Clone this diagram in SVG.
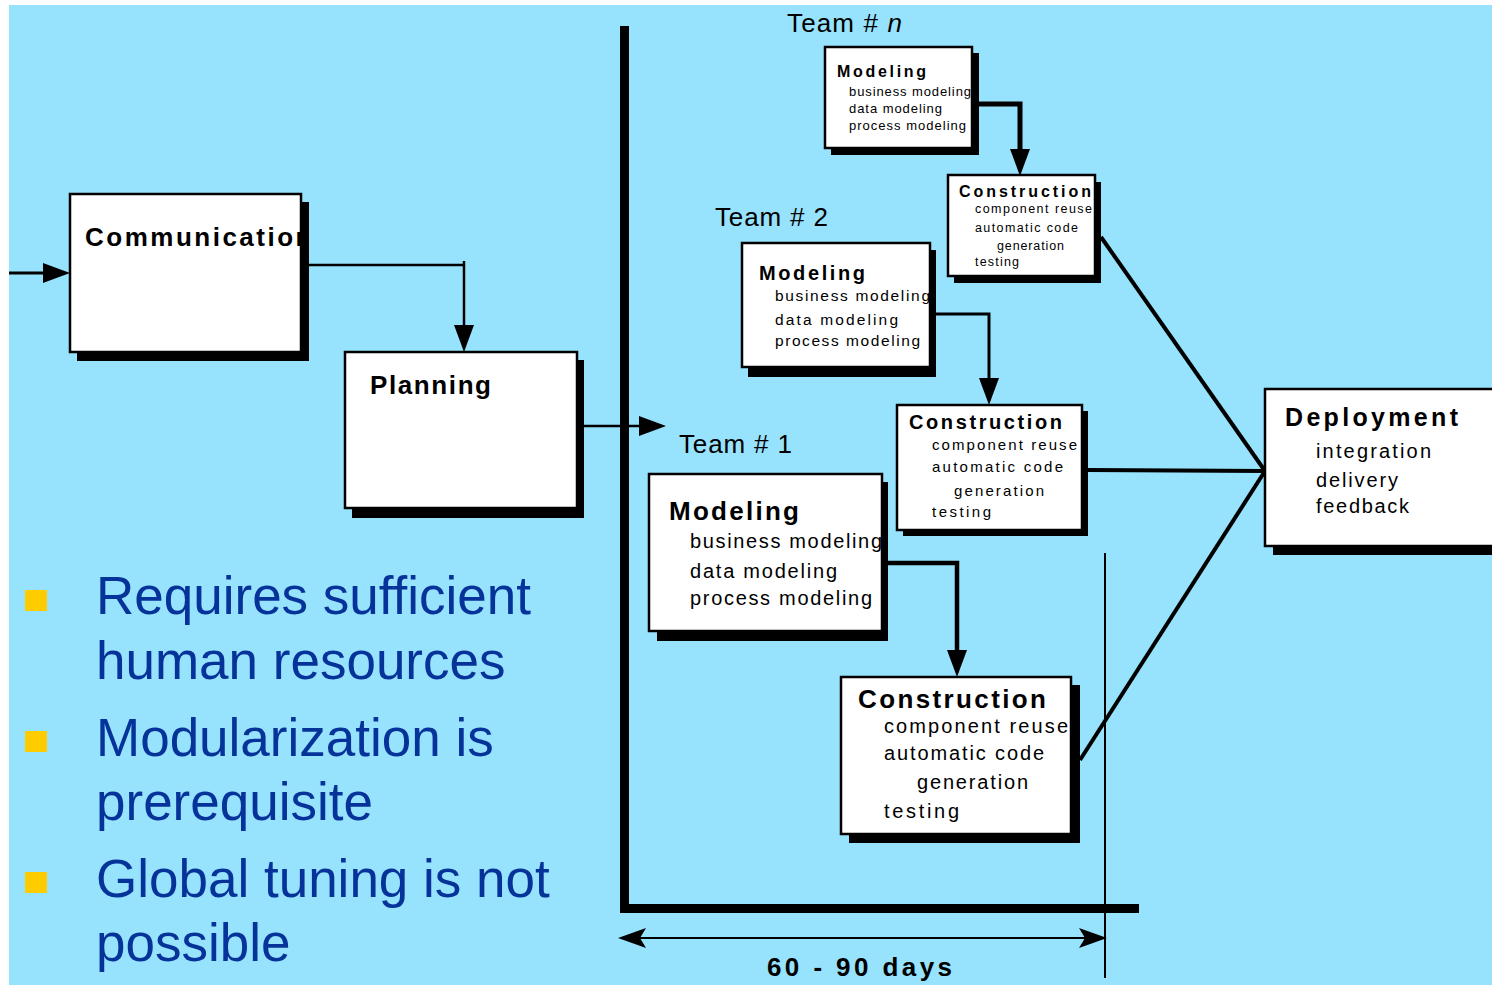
<svg xmlns="http://www.w3.org/2000/svg" width="1492" height="985" viewBox="0 0 1492 985">
<defs>
<style>
.bg{fill:#97E2FC}
.box{fill:#fff;stroke:#000;stroke-width:2.5}
.sh{fill:#000}
.t{font-family:"Liberation Sans",Arial,sans-serif;fill:#000}
.b{font-weight:bold}
.conn{fill:none;stroke:#000;stroke-linejoin:miter}
.bar{fill:#000}
.bul{font-family:"Liberation Sans",Arial,sans-serif;font-size:53px;fill:#063399}
.sq{fill:#FFCC00}
</style>
<marker id="ah" markerUnits="userSpaceOnUse" viewBox="0 0 27 20" markerWidth="27" markerHeight="20" refX="17" refY="10" orient="auto"><path d="M0,0 L27,10 L0,20 Z" fill="#000"/></marker>
<marker id="st" markerUnits="userSpaceOnUse" viewBox="0 0 28 20" markerWidth="28" markerHeight="20" refX="24" refY="10" orient="auto-start-reverse"><path d="M0,0 L28,10 L0,20 L6,10 Z" fill="#000"/></marker>
<clipPath id="clipComm"><rect x="70" y="194" width="231" height="158"/></clipPath>
</defs>
<rect x="0" y="0" width="1492" height="985" fill="#fff"/>
<rect class="bg" x="9" y="5" width="1483" height="980"/>

<g id="timeline">
<rect class="bar" x="620" y="26" width="9" height="887"/>
<rect class="bar" x="620" y="904" width="519" height="9"/>
<line x1="1105" y1="553" x2="1105" y2="978" stroke="#000" stroke-width="2"/>
<path d="M622,938 H1103" fill="none" stroke="#000" stroke-width="2" marker-start="url(#st)" marker-end="url(#st)"/>
<text class="t b" x="767" y="976" font-size="26" textLength="185" lengthAdjust="spacing">60 - 90 days</text>
</g>

<g id="connectors">
<path class="conn" d="M9,273 H60" stroke-width="3" marker-end="url(#ah)"/>
<path class="conn" d="M309,265 H465 M464,261 V342" stroke-width="2.5" marker-end="url(#ah)"/>
<path class="conn" d="M584,426 H656" stroke-width="2.5" marker-end="url(#ah)"/>
<path class="conn" d="M979,104 H1020 V166" stroke-width="5" marker-end="url(#ah)"/>
<path class="conn" d="M936,314 H989 V395" stroke-width="3" marker-end="url(#ah)"/>
<path class="conn" d="M888,563 H957 V667" stroke-width="4.5" marker-end="url(#ah)"/>
<path class="conn" d="M1101,237 L1265,471" stroke-width="4"/>
<path class="conn" d="M1088,470 L1265,471" stroke-width="4"/>
<path class="conn" d="M1080,760 L1265,471" stroke-width="4"/>
</g>

<g id="communication">
<rect class="sh" x="77" y="202" width="232" height="159"/>
<rect class="box" x="70" y="194" width="231" height="158"/>
<text class="t b" x="85" y="246" font-size="26" letter-spacing="2.5" clip-path="url(#clipComm)">Communication</text>
</g>

<g id="planning">
<rect class="sh" x="352" y="360" width="232" height="158"/>
<rect class="box" x="345" y="352" width="232" height="156"/>
<text class="t b" x="370" y="394" font-size="26" textLength="121" lengthAdjust="spacing">Planning</text>
</g>

<g id="team-n">
<text class="t" x="787" y="32" font-size="26" textLength="115" lengthAdjust="spacing">Team # <tspan font-style="italic">n</tspan></text>
</g>
<g id="modeling-n">
<rect class="sh" x="831" y="53" width="148" height="102"/>
<rect class="box" x="825" y="47" width="147" height="101" stroke-width="2"/>
<text class="t b" x="837" y="77" font-size="16" textLength="89" lengthAdjust="spacing">Modeling</text>
<text class="t" x="849" y="96" font-size="13" textLength="122" lengthAdjust="spacing">business modeling</text>
<text class="t" x="849" y="113" font-size="13" textLength="93" lengthAdjust="spacing">data modeling</text>
<text class="t" x="849" y="130" font-size="13" textLength="117" lengthAdjust="spacing">process modeling</text>
</g>
<g id="construction-n">
<rect class="sh" x="954" y="182" width="147" height="101"/>
<rect class="box" x="948" y="175" width="147" height="101" stroke-width="2"/>
<text class="t b" x="959" y="197" font-size="16" textLength="132" lengthAdjust="spacing">Construction</text>
<text class="t" x="975" y="213" font-size="12.5" textLength="117" lengthAdjust="spacing">component reuse</text>
<text class="t" x="975" y="232" font-size="12.5" textLength="103" lengthAdjust="spacing">automatic code</text>
<text class="t" x="997" y="250" font-size="12.5" textLength="67" lengthAdjust="spacing">generation</text>
<text class="t" x="975" y="266" font-size="12.5" textLength="44" lengthAdjust="spacing">testing</text>
</g>

<g id="team-2">
<text class="t" x="715" y="226" font-size="26" textLength="113" lengthAdjust="spacing">Team # 2</text>
</g>
<g id="modeling-2">
<rect class="sh" x="748" y="250" width="188" height="127"/>
<rect class="box" x="742" y="243" width="188" height="124"/>
<text class="t b" x="759" y="280" font-size="20" textLength="106" lengthAdjust="spacing">Modeling</text>
<text class="t" x="775" y="301" font-size="15.5" textLength="155" lengthAdjust="spacing">business modeling</text>
<text class="t" x="775" y="325" font-size="15.5" textLength="123" lengthAdjust="spacing">data modeling</text>
<text class="t" x="775" y="346" font-size="15.5" textLength="145" lengthAdjust="spacing">process modeling</text>
</g>
<g id="construction-2">
<rect class="sh" x="903" y="411" width="185" height="125"/>
<rect class="box" x="897" y="405" width="185" height="125"/>
<text class="t b" x="909" y="429" font-size="20" textLength="153" lengthAdjust="spacing">Construction</text>
<text class="t" x="932" y="450" font-size="15" textLength="145" lengthAdjust="spacing">component reuse</text>
<text class="t" x="932" y="472" font-size="15" textLength="131" lengthAdjust="spacing">automatic code</text>
<text class="t" x="954" y="496" font-size="15" textLength="90" lengthAdjust="spacing">generation</text>
<text class="t" x="932" y="517" font-size="15" textLength="59" lengthAdjust="spacing">testing</text>
</g>

<g id="team-1">
<text class="t" x="679" y="453" font-size="26" textLength="113" lengthAdjust="spacing">Team # 1</text>
</g>
<g id="modeling-1">
<rect class="sh" x="657" y="482" width="231" height="159"/>
<rect class="box" x="649" y="474" width="233" height="157"/>
<text class="t b" x="669" y="520" font-size="26" textLength="130" lengthAdjust="spacing">Modeling</text>
<text class="t" x="690" y="548" font-size="20" textLength="192" lengthAdjust="spacing">business modeling</text>
<text class="t" x="690" y="578" font-size="20" textLength="147" lengthAdjust="spacing">data modeling</text>
<text class="t" x="690" y="605" font-size="20" textLength="182" lengthAdjust="spacing">process modeling</text>
</g>
<g id="construction-1">
<rect class="sh" x="849" y="685" width="231" height="158"/>
<rect class="box" x="841" y="677" width="230" height="157"/>
<text class="t b" x="858" y="708" font-size="26" textLength="188" lengthAdjust="spacing">Construction</text>
<text class="t" x="884" y="733" font-size="20" textLength="184" lengthAdjust="spacing">component reuse</text>
<text class="t" x="884" y="760" font-size="20" textLength="160" lengthAdjust="spacing">automatic code</text>
<text class="t" x="917" y="789" font-size="20" textLength="111" lengthAdjust="spacing">generation</text>
<text class="t" x="884" y="818" font-size="20" textLength="75" lengthAdjust="spacing">testing</text>
</g>

<g id="deployment">
<rect class="sh" x="1273" y="397" width="240" height="158"/>
<rect class="box" x="1265" y="389" width="240" height="157"/>
<text class="t b" x="1285" y="426" font-size="25" textLength="173" lengthAdjust="spacing">Deployment</text>
<text class="t" x="1316" y="458" font-size="20" textLength="115" lengthAdjust="spacing">integration</text>
<text class="t" x="1316" y="487" font-size="20" textLength="82" lengthAdjust="spacing">delivery</text>
<text class="t" x="1316" y="513" font-size="20" textLength="93" lengthAdjust="spacing">feedback</text>
</g>

<g id="bullets">
<rect class="sq" x="25" y="590" width="22" height="21"/>
<rect class="sq" x="25" y="731" width="22" height="21"/>
<rect class="sq" x="25" y="872" width="22" height="21"/>
<text class="bul" x="96" y="614">Requires sufficient</text>
<text class="bul" x="96" y="679">human resources</text>
<text class="bul" x="96" y="756">Modularization is</text>
<text class="bul" x="96" y="820">prerequisite</text>
<text class="bul" x="96" y="897">Global tuning is not</text>
<text class="bul" x="96" y="961">possible</text>
</g>
</svg>
